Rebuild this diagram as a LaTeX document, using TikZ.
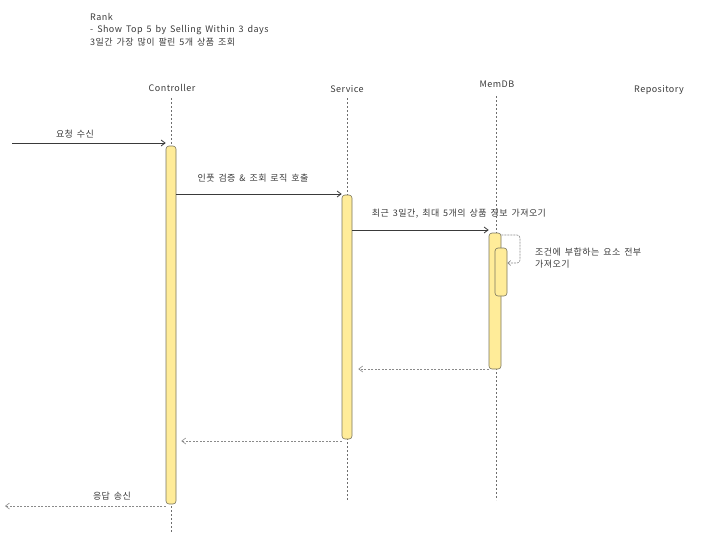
\documentclass[tikz,border=0pt]{standalone}
\usepackage{fontspec}
\setmainfont[LetterSpace=5,WordSpace=1.6]{Noto Sans CJK KR}
\usetikzlibrary{arrows.meta}
\definecolor{ink}{HTML}{3A3A3A}
\definecolor{actfill}{HTML}{FFEC99}
\definecolor{actline}{HTML}{7A7660}
\definecolor{lifeline}{HTML}{6E6E6E}
\definecolor{retline}{HTML}{8A8A8A}
\tikzset{
  txt/.style={font=\fontsize{9}{12.5}\selectfont, text=ink, inner sep=0pt},
  actor/.style={txt},
  life/.style={draw=lifeline, dash pattern=on 2pt off 2pt, line width=0.6pt},
  activation/.style={draw=actline, fill=actfill, rounded corners=3pt, line width=0.6pt},
  call/.style={draw=ink, line width=0.8pt, -{Straight Barb[length=4pt,width=6pt]}},
  reply/.style={draw=retline, line width=0.6pt, dash pattern=on 2pt off 1.5pt, -{Straight Barb[length=4pt,width=6pt]}},
  selfcall/.style={draw=retline, line width=0.6pt, dash pattern=on 2pt off 1pt, rounded corners=3pt, -{Straight Barb[length=3pt,width=5pt]}}
}
\begin{document}
\begin{tikzpicture}[x=1pt, y=-1pt]
  \useasboundingbox (0,0) rectangle (719,547);

  % heading
  \node[txt, anchor=north west, align=left] (title) at (90,13)
    {Rank\\- Show Top 5 by Selling Within 3 days\\3일간 가장 많이 팔린 5개 상품 조회};

  % participants
  \node[actor] (ctrl) at (172,88) {Controller};
  \node[actor] (svc)  at (347,89) {Service};
  \node[actor] (mem)  at (497,84) {MemDB};
  \node[actor] (repo) at (659,90) {Repository};

  % lifelines
  \coordinate (ctrlTop) at (171,98);  \coordinate (ctrlBot) at (171,532);
  \coordinate (svcTop)  at (347,98);  \coordinate (svcBot)  at (347,500);
  \coordinate (memTop)  at (496,96);  \coordinate (memBot)  at (496,500);
  \draw[life] (ctrlTop) -- (ctrlBot);
  \draw[life] (svcTop) -- (svcBot);
  \draw[life] (memTop) -- (memBot);

  % activation bars
  \node[activation, minimum width=10pt, minimum height=358pt, inner sep=0pt] (actC) at (171,325) {};
  \node[activation, minimum width=10pt, minimum height=244pt, inner sep=0pt] (actS) at (347,317) {};
  \node[activation, minimum width=12pt, minimum height=136pt, inner sep=0pt] (actM) at (495,301) {};
  \node[activation, minimum width=12pt, minimum height=48pt, inner sep=0pt] (actM2) at (501,272) {};

  % incoming request
  \coordinate (client) at (12,143);
  \draw[call] (client) -- (actC.north west |- client);
  \node[txt] (lbl1) at (75,134) {요청 수신};

  % controller -> service
  \draw[call] (actC.east |- 0,194) -- (actS.west |- 0,194);
  \node[txt] (lbl2) at (253,178) {인풋 검증 \& 조회 로직 호출};

  % service -> memdb
  \draw[call] (actS.east |- 0,230) -- (actM.west |- 0,230);
  \node[txt] (lbl3) at (459,214) {최근 3일간, 최대 5개의 상품 정보 가져오기};

  % self call on memdb
  \coordinate (loopA) at (520,235);
  \coordinate (loopB) at (520,263);
  \draw[selfcall] (actM.north east |- 0,235) -- (loopA) -- (loopB) -- (actM2.east |- loopB);
  \node[txt, anchor=west, align=left] (lbl4) at (535,258) {조건에 부합하는 요소 전부\\가져오기};

  % replies
  \draw[reply] (actM.south west |- 0,369) -- ([xshift=6pt]actS.east |- 0,369);
  \draw[reply] (actS.south west |- 0,441) -- ([xshift=5pt]actC.east |- 0,441);
  \coordinate (clientEnd) at (5,506);
  \draw[reply] (actC.south west |- 0,506) -- (clientEnd);
  \node[txt] (lbl5) at (112,496) {응답 송신};
\end{tikzpicture}
\end{document}
